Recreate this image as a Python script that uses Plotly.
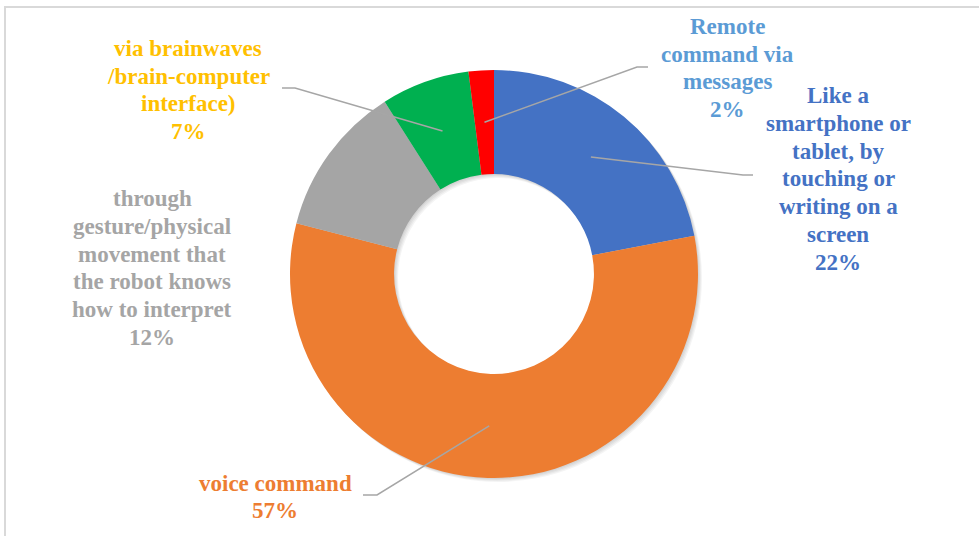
import math
import plotly.graph_objects as go

# Survey shares: preferred way of giving commands to a robot
categories = [
    "Like a<br>smartphone or<br>tablet, by<br>touching or<br>writing on a<br>screen",
    "voice command",
    "through<br>gesture/physical<br>movement that<br>the robot knows<br>how to interpret",
    "via brainwaves<br>/brain-computer<br>interface)",
    "Remote<br>command via<br>messages",
]
values = [22, 57, 12, 7, 2]
slice_colors = ["#4472C4", "#ED7D31", "#A5A5A5", "#00B050", "#FF0000"]
label_colors = ["#4472C4", "#ED7D31", "#A5A5A5", "#FFC000", "#5B9BD5"]

# Canvas and donut geometry (pixels)
W, H = 979, 536
CX, CY, R = 494, 274, 204
HOLE = 0.49
LINE_GAP = 27.8
FONT_SIZE = 23

# Label block centres and leader-line end points (pixels); None = no leader
label_pos = [(838, 179), (275, 497), (152, 268), (188, 90), (727, 68)]
leader_ends = [
    [(743, 175), (753, 175)],
    [(377, 495), (363, 495)],
    None,
    [(295, 88), (282, 88)],
    [(637, 67), (648, 67)],
]


def px(x):
    return x / W


def py(y):
    return 1 - y / H


def domain(dx=0, dy=0):
    return dict(
        x=[px(CX - R + dx), px(CX + R + dx)],
        y=[py(CY + R + dy), py(CY - R + dy)],
    )


fig = go.Figure()

# soft drop shadow under the ring
for off in (1, 2, 3, 4):
    fig.add_trace(go.Pie(
        values=[1], hole=HOLE, sort=False, domain=domain(off, off),
        marker=dict(colors=["rgba(0,0,0,0.045)"], line=dict(width=0)),
        textinfo="none", hoverinfo="skip", showlegend=False,
    ))

fig.add_trace(go.Pie(
    labels=[c.replace("<br>", " ") for c in categories],
    values=values, hole=HOLE, sort=False, direction="clockwise", rotation=0,
    domain=domain(),
    marker=dict(colors=slice_colors, line=dict(width=0)),
    textinfo="none", showlegend=False,
))

total = sum(values)
shapes = []
annotations = []
cum = 0
for cat, val, col, pos, ends in zip(categories, values, label_colors, label_pos, leader_ends):
    mid = 2 * math.pi * (cum + val / 2) / total
    cum += val
    if ends is not None:
        r_anchor = R * (1 + HOLE) / 2
        ax = CX + r_anchor * math.sin(mid)
        ay = CY - r_anchor * math.cos(mid)
        pts = [(ax, ay)] + ends
        path = "M " + " L ".join(f"{px(x)},{py(y)}" for x, y in pts)
        shapes.append(dict(type="path", xref="paper", yref="paper", path=path,
                           line=dict(color="#A6A6A6", width=1.5)))
    pct = round(100 * val / total)
    # one annotation per line for tight, even line spacing
    lines = cat.split("<br>") + [f"{pct}%"]
    top = pos[1] - LINE_GAP * (len(lines) - 1) / 2
    for i, line in enumerate(lines):
        annotations.append(dict(
            x=px(pos[0]), y=py(top + i * LINE_GAP), xref="paper", yref="paper",
            text=f"<b>{line}</b>", showarrow=False, align="center",
            xanchor="center", yanchor="middle",
            font=dict(family="Liberation Serif", size=FONT_SIZE, color=col),
        ))

# chart-area frame
shapes.append(dict(type="rect", xref="paper", yref="paper",
                   x0=px(5), y0=py(7), x1=1.05, y1=-0.05,
                   line=dict(color="#D9D9D9", width=2), fillcolor="rgba(0,0,0,0)",
                   layer="below"))

fig.update_layout(
    width=W, height=H, autosize=False,
    margin=dict(l=0, r=0, t=0, b=0),
    paper_bgcolor="white", plot_bgcolor="white",
    shapes=shapes, annotations=annotations,
    showlegend=False,
)

fig.write_html("out.html")
